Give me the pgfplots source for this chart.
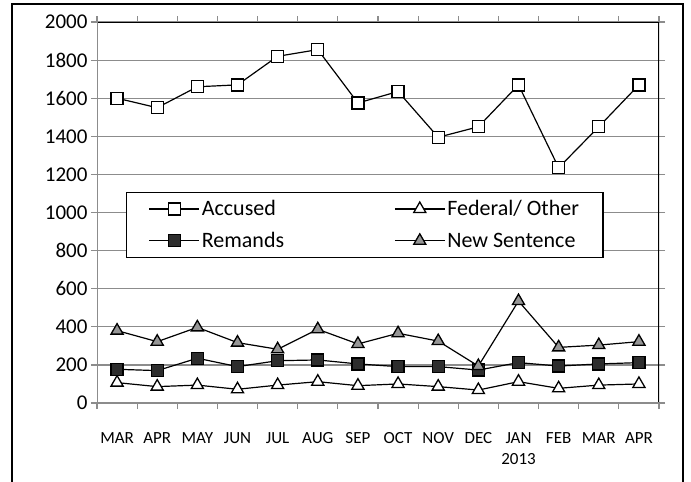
\documentclass[border=0pt]{standalone}
\usepackage{pgfplots}
\pgfplotsset{compat=1.18}
\usepackage{fontspec}
\setmainfont{Carlito}
\definecolor{gridgray}{RGB}{140,140,140}
\definecolor{darkfill}{RGB}{45,45,45}
\definecolor{midfill}{RGB}{150,150,150}
\begin{document}
\begin{tikzpicture}
\useasboundingbox (0,0) rectangle (691pt,-482pt);
\fill[white] (0,0) rectangle (691pt,-482pt);
\draw[line width=1.3pt] (12pt,-482pt) -- (12pt,-4pt) -- (683pt,-4pt) -- (683pt,-482pt);
\begin{axis}[
  at={(97pt,-403pt)}, anchor=south west,
  width=562pt, height=381pt, scale only axis,
  xmin=-0.5, xmax=13.5, ymin=0, ymax=2000,
  ytick={0,200,...,2000},
  /pgf/number format/assume math mode=true,
  /pgf/number format/1000 sep={},
  xtick={0,...,13},
  xticklabels={MAR,APR,MAY,JUN,JUL,AUG,SEP,OCT,NOV,DEC,{JAN\\2013},FEB,MAR,APR},
  minor xtick={-0.5,0.5,...,13.5},
  xticklabel style={align=center, font=\fontsize{17}{21}\selectfont, anchor=north, yshift=-20pt},
  yticklabel style={font=\fontsize{21}{24}\selectfont},
  axis line style={draw=none},
  tick align=outside,
  major tick length=6pt, minor tick length=6pt,
  major x tick style={draw=none},
  minor x tick style={draw=gridgray, line width=1.2pt},
  major y tick style={draw=gridgray, line width=1.2pt},
  ymajorgrids, major grid style={draw=gridgray, line width=1.2pt},
  legend columns=2,
  legend cell align=left,
  legend style={at={(0.0516,0.5538)}, anchor=north west, draw=black, line width=1.3pt,
    font=\fontsize{22}{26}\selectfont, inner xsep=22pt, inner ysep=6pt, row sep=11pt,
    /tikz/every even column/.append style={column sep=108pt}},
  legend image code/.code={\draw[mark repeat=2,mark phase=2, line width=1.2pt] plot coordinates {(0pt,0pt)(25pt,0pt)(50pt,0pt)};},
  every axis plot/.append style={line width=1.2pt, black},
]
\addplot[mark=square*, mark size=6pt, mark options={fill=white, line width=1.3pt}] coordinates {
(0,1600)(1,1550)(2,1660)(3,1670)(4,1820)(5,1855)(6,1575)(7,1635)(8,1395)(9,1450)(10,1670)(11,1235)(12,1450)(13,1670)};
\addlegendentry{Accused}
\addplot[mark=triangle*, mark size=7pt, mark options={fill=white, line width=1.3pt}] coordinates {
(0,107)(1,86)(2,94)(3,72)(4,94)(5,112)(6,91)(7,100)(8,86)(9,68)(10,112)(11,77)(12,94)(13,100)};
\addlegendentry{Federal/ Other}
\addplot[mark=square*, mark size=6pt, mark options={fill=darkfill, line width=1.3pt}] coordinates {
(0,177)(1,170)(2,235)(3,191)(4,222)(5,226)(6,205)(7,191)(8,191)(9,173)(10,212)(11,194)(12,205)(13,212)};
\addlegendentry{Remands}
\addplot[mark=triangle*, mark size=7pt, mark options={fill=midfill, line width=1.3pt}] coordinates {
(0,380)(1,322)(2,397)(3,317)(4,282)(5,387)(6,310)(7,366)(8,325)(9,194)(10,535)(11,292)(12,304)(13,322)};
\addlegendentry{New Sentence}
\draw[black, line width=1.3pt] (rel axis cs:0,1) -- (rel axis cs:1,1) -- (rel axis cs:1,0);
\draw[gridgray, line width=1.3pt] (rel axis cs:0,1) -- (rel axis cs:0,0) -- (rel axis cs:1,0);
\end{axis}
\end{tikzpicture}
\end{document}
